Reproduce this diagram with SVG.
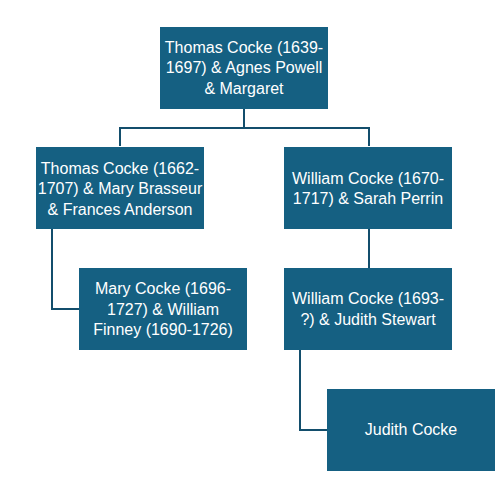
<svg xmlns="http://www.w3.org/2000/svg" width="503" height="481" viewBox="0 0 503 481">
<style>
.box{fill:#156082}
.t{font-family:"Liberation Sans",Arial,sans-serif;font-size:16px;fill:#ffffff;text-anchor:middle}
.c{fill:none;stroke:#134e6c;stroke-width:2}
</style>
<rect width="503" height="481" fill="#ffffff"/>
<g id="connectors">
<path class="c" d="M244,109 V128 M120,146 V128 H369 V146"/>
<path class="c" d="M52,229 V309 H79"/>
<path class="c" d="M369,229 V268"/>
<path class="c" d="M300,350 V430 H327"/>
</g>
<g id="n1"><rect class="box" x="160" y="27" width="168" height="82"/>
<text class="t" x="244" y="52.5">Thomas Cocke (1639-</text>
<text class="t" x="244" y="73">1697) &amp; Agnes Powell</text>
<text class="t" x="244" y="93.5">&amp; Margaret</text></g>
<g id="n2"><rect class="box" x="36" y="147" width="168" height="82"/>
<text class="t" x="120" y="173.5">Thomas Cocke (1662-</text>
<text class="t" x="120" y="194">1707) &amp; Mary Brasseur</text>
<text class="t" x="120" y="214.5">&amp; Frances Anderson</text></g>
<g id="n3"><rect class="box" x="284" y="147" width="168" height="82"/>
<text class="t" x="368" y="183.5">William Cocke (1670-</text>
<text class="t" x="368" y="204">1717) &amp; Sarah Perrin</text></g>
<g id="n4"><rect class="box" x="79" y="268" width="168" height="82"/>
<text class="t" x="163" y="294">Mary Cocke (1696-</text>
<text class="t" x="163" y="314.5">1727) &amp; William</text>
<text class="t" x="163" y="335">Finney (1690-1726)</text></g>
<g id="n5"><rect class="box" x="284" y="268" width="168" height="82"/>
<text class="t" x="368" y="304">William Cocke (1693-</text>
<text class="t" x="368" y="324.5">?) &amp; Judith Stewart</text></g>
<g id="n6"><rect class="box" x="327" y="389" width="168" height="82"/>
<text class="t" x="411" y="435">Judith Cocke</text></g>
</svg>
